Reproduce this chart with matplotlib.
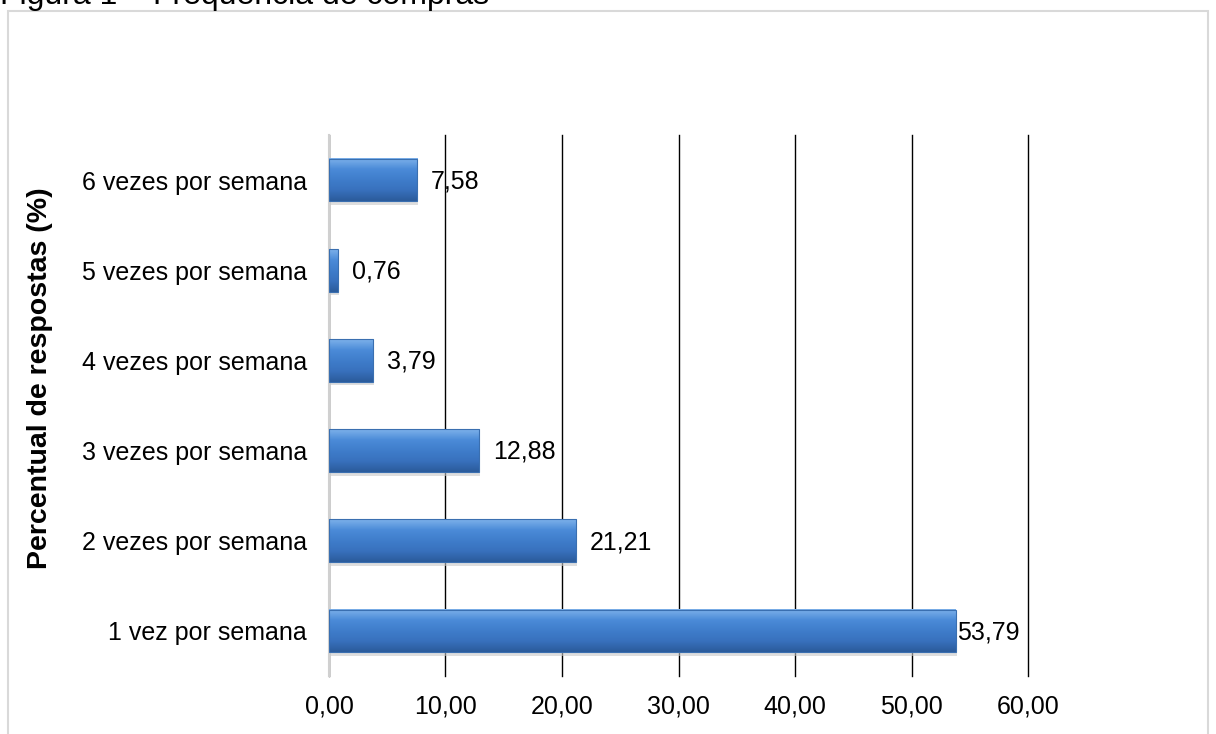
import numpy as np
import matplotlib
matplotlib.use("Agg")
from matplotlib import pyplot as plt
from matplotlib.colors import LinearSegmentedColormap
from matplotlib.patches import Rectangle

plt.rcParams['font.family'] = ['Liberation Sans', 'DejaVu Sans']

categorias = ["1 vez por semana", "2 vezes por semana", "3 vezes por semana",
              "4 vezes por semana", "5 vezes por semana", "6 vezes por semana"]
valores = [53.79, 21.21, 12.88, 3.79, 0.76, 7.58]
ticks_x = [0, 10, 20, 30, 40, 50, 60]
titulo = "Figura 1 \u2013 Frequ\u00eancia de compras"
rotulo_y = "Percentual de respostas (%)"

W, H = 1216, 734
fig = plt.figure(figsize=(W / 100, H / 100), dpi=100)
ax = fig.add_axes([329 / W, 1 - 676 / H, 699 / W, 541 / H])

# moldura cinza do grafico
fig.patches.append(Rectangle((8 / W, -0.05), 1200 / W, 1.05 - 11 / H,
                             transform=fig.transFigure, fill=False,
                             edgecolor="#d9d9d9", lw=1.5))
fig.text(0, 1 - 4 / H, titulo, fontsize=23, va="baseline", ha="left")

grad = LinearSegmentedColormap.from_list(
    "barra", ["#2b5b9b", "#3871bd", "#3f7dcb", "#4b8bd8", "#7db1ea"])
g = np.linspace(0, 1, 64).reshape(-1, 1)

h = 0.475
y = np.arange(len(categorias))
for yi, v in zip(y, valores):
    # sombra
    ax.add_patch(Rectangle((0.1, yi - h / 2 - 0.04), v, h, color="#c8c8c8",
                           alpha=0.6, lw=0, zorder=2))
    ax.imshow(g, cmap=grad, extent=(0, v, yi - h / 2, yi + h / 2),
              aspect="auto", origin="lower", zorder=3, interpolation="bicubic")
    ax.add_patch(Rectangle((0, yi - h / 2), v, h, fill=False,
                           edgecolor="#3a6fb0", lw=0.8, zorder=4))

ax.set_xlim(0, 60)
ax.set_ylim(-0.5, 5.5)
ax.set_xticks(ticks_x)
ax.set_xticklabels([f"{t:.2f}".replace(".", ",") for t in ticks_x])
ax.set_yticks(y)
ax.set_yticklabels(categorias)
ax.tick_params(axis="both", length=0, labelsize=18, colors="#000000")
ax.tick_params(axis="y", pad=16)
ax.tick_params(axis="x", pad=13)
for s in ["top", "right", "bottom"]:
    ax.spines[s].set_visible(False)
ax.spines["left"].set_color("#d0d0d0")
ax.spines["left"].set_linewidth(1.5)
ax.grid(axis="x", color="#000000", lw=1.0, zorder=1)
ax.set_axisbelow(True)
for gl in ax.get_xgridlines():
    gl.set_clip_on(False)

fig.text(40 / W, 1 - 378 / H, rotulo_y, rotation=90, fontsize=20.5,
         fontweight="bold", ha="center", va="center")

# rotulos de dados
fig.canvas.draw()
r = fig.canvas.get_renderer()
x_max = ax.transData.transform((60, 0))[0]
for yi, v in zip(y, valores):
    txt = f"{v:.2f}".replace(".", ",")
    t = ax.annotate(txt, (v, yi), xytext=(10, -1), textcoords="offset points",
                    va="center", ha="left", fontsize=18, zorder=5)
    bb = t.get_window_extent(r)
    if bb.x1 > x_max:
        t.set_position((0.8, -1))

fig.savefig("out.png", dpi=100)
